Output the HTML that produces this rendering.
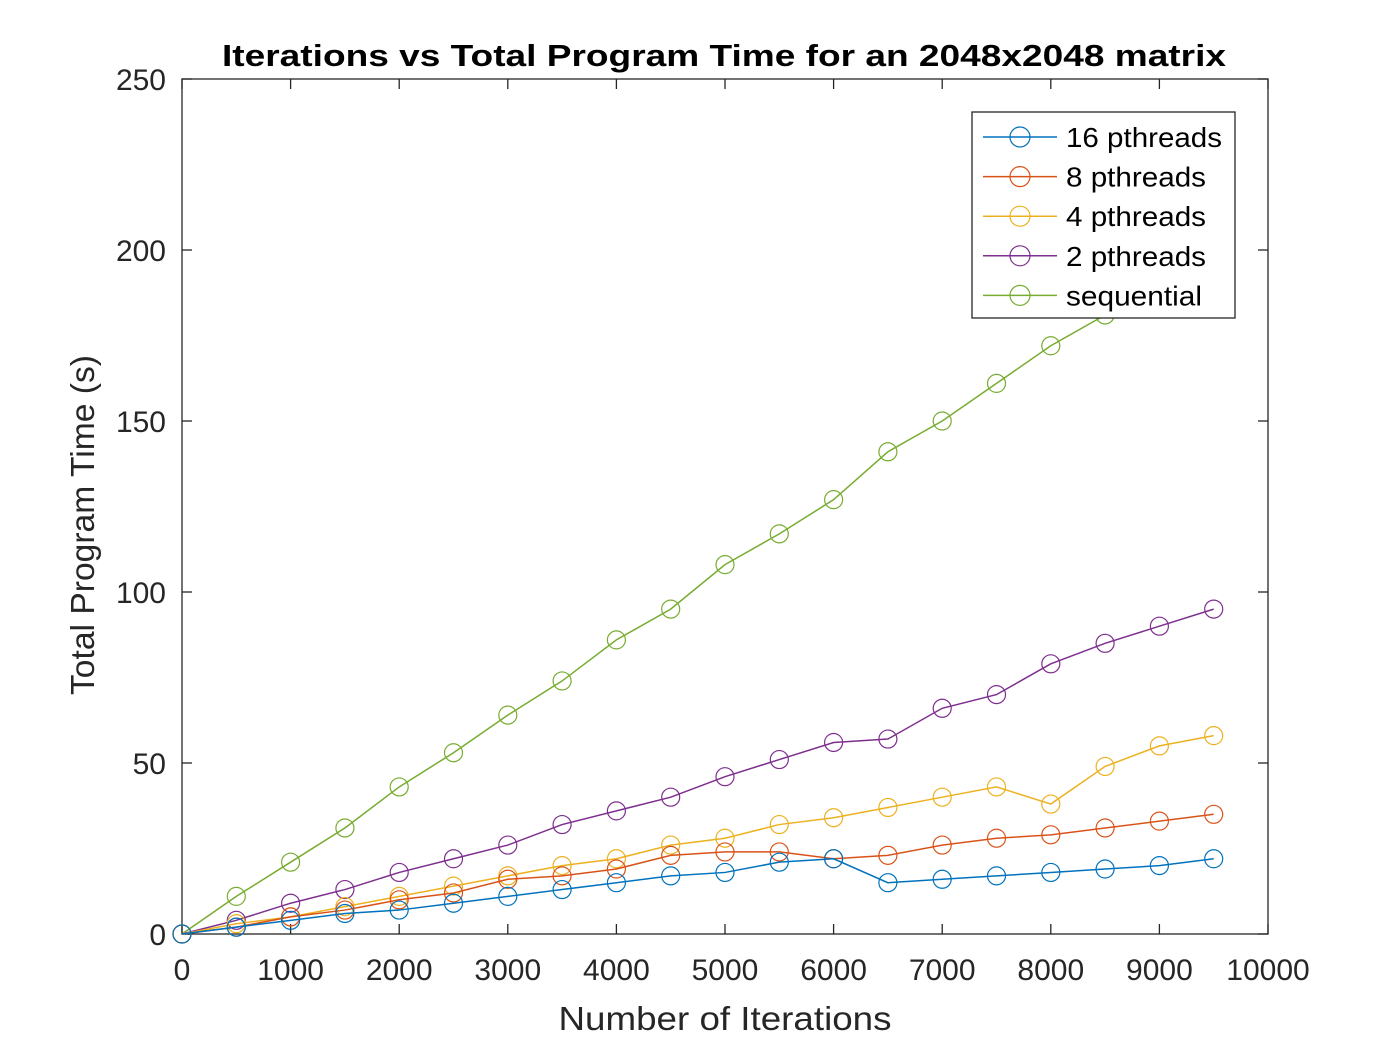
<!DOCTYPE html>
<html><head><meta charset="utf-8"><style>
body{margin:0;background:#fff;}
svg{display:block;font-family:"Liberation Sans",Arial,sans-serif;}
</style></head><body>
<svg id="chart" width="1400" height="1050" xmlns="http://www.w3.org/2000/svg"></svg>
<script>
const xValues=[0,500,1000,1500,2000,2500,3000,3500,4000,4500,5000,5500,6000,6500,7000,7500,8000,8500,9000,9500];
const seqValues=[0,11,21,31,43,53,64,74,86,95,108,117,127,141,150,161,172,181,191,201];
const p2Values=[0,4,9,13,18,22,26,32,36,40,46,51,56,57,66,70,79,85,90,95];
const p4Values=[0,3,5,8,11,14,17,20,22,26,28,32,34,37,40,43,38,49,55,58];
const p8Values=[0,2,5,7,10,12,16,17,19,23,24,24,22,23,26,28,29,31,33,35];
const p16Values=[0,2,4,6,7,9,11,13,15,17,18,21,22,15,16,17,18,19,20,22];
const xTicks=[0,1000,2000,3000,4000,5000,6000,7000,8000,9000,10000];
const yTicks=[0,50,100,150,200,250];
const seriesNames=["16 pthreads","8 pthreads","4 pthreads","2 pthreads","sequential"];

const L=182,R=1268,T=79,B=934;
const sx=v=>L+(v/10000)*(R-L);
const sy=v=>B-(v/250)*(B-T);
const svg=document.getElementById('chart');
const NS="http://www.w3.org/2000/svg";
function mk(tag,attrs,parent){const e=document.createElementNS(NS,tag);for(const k in attrs)e.setAttribute(k,attrs[k]);(parent||svg).appendChild(e);return e;}

const title=mk('text',{x:724,y:66,'text-anchor':'middle','font-size':31,'font-weight':'bold',fill:'#000',textLength:1004,lengthAdjust:'spacingAndGlyphs'});
title.textContent="Iterations vs Total Program Time for an 2048x2048 matrix";



const box=mk('rect',{x:L,y:T,width:R-L,height:B-T,fill:'#fff',stroke:'#262626','stroke-width':1.3});



xTicks.forEach(t=>{
  const x=sx(t);
  mk('line',{x1:x,x2:x,y1:B,y2:B-10,stroke:'#262626','stroke-width':1.3});
  mk('line',{x1:x,x2:x,y1:T,y2:T+10,stroke:'#262626','stroke-width':1.3});
  const tx=mk('text',{x:x,y:B+46,'text-anchor':'middle','font-size':30,fill:'#262626'});
  tx.textContent=t;
  
  
});
yTicks.forEach(t=>{
  const y=sy(t);
  mk('line',{x1:L,x2:L+10,y1:y,y2:y,stroke:'#262626','stroke-width':1.3});
  mk('line',{x1:R,x2:R-10,y1:y,y2:y,stroke:'#262626','stroke-width':1.3});
  const tx=mk('text',{x:L-16,y:y+11,'text-anchor':'end','font-size':30,fill:'#262626'});
  tx.textContent=t;
  
  
});
const xt=mk('text',{x:725,y:1030,'text-anchor':'middle','font-size':33,fill:'#262626',textLength:333,lengthAdjust:'spacingAndGlyphs'});
xt.textContent="Number of Iterations";


const yt=mk('text',{x:0,y:0,'text-anchor':'middle','font-size':33,fill:'#262626',transform:'translate(94,525) rotate(-90)',textLength:340,lengthAdjust:'spacingAndGlyphs'});
yt.textContent="Total Program Time (s)";



const colors=['#0072BD','#D95319','#EDB120','#7E2F8E','#77AC30'];
const allSeries=[p16Values,p8Values,p4Values,p2Values,seqValues];
const keys=['p16','p8','p4','p2','seq'];
for(let s=allSeries.length-1;s>=0;s--){
  const vals=allSeries[s];
  const g=mk('g',{});
  
  
  const pts=vals.map((v,i)=>sx(xValues[i])+','+sy(v)).join(' ');
  const pl=mk('polyline',{points:pts,fill:'none',stroke:colors[s],'stroke-width':1.5},g);
  
  
  vals.forEach((v,i)=>{
    const c=mk('circle',{cx:sx(xValues[i]),cy:sy(v),r:9,fill:'none',stroke:colors[s],'stroke-width':1.2},g);
    
    
  });
}

const legendWidths=[156,140,140,140,136];
const lg=mk('g',{});


mk('rect',{x:972,y:112,width:263,height:206,fill:'#fff',stroke:'#262626','stroke-width':1.3},lg);
seriesNames.forEach((n,i)=>{
  const y=137+i*39.6;
  const e=mk('g',{},lg);
  
  
  mk('line',{x1:983,x2:1057,y1:y,y2:y,stroke:colors[i],'stroke-width':1.5},e);
  mk('circle',{cx:1020,cy:y,r:10,fill:'none',stroke:colors[i],'stroke-width':1.2},e);
  const t=mk('text',{x:1066,y:y+10,'font-size':28,fill:'#000',textLength:legendWidths[i],lengthAdjust:'spacingAndGlyphs'},e);
  t.textContent=n;
});
</script>
</body></html>
